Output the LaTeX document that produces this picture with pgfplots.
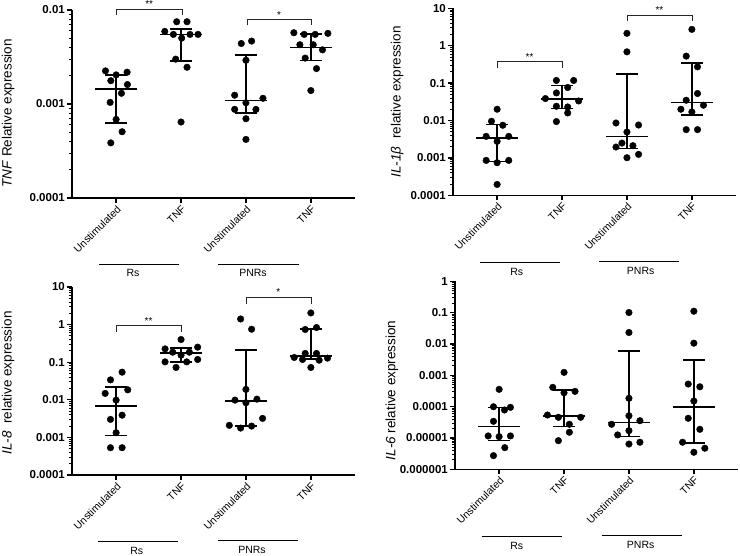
\documentclass[border=0pt]{standalone}
\usepackage{fontspec}
\setmainfont{Liberation Sans}
\usepackage{pgfplots}
\usepackage{pgfplotstable}
\pgfplotsset{compat=1.18}

% ---------- Panel 1: TNF ----------
\pgfplotstableread{
x y
-0.164 0.00225
0 0.00204
0.169 0.00218
-0.082 0.00177
0.174 0.00161
0.082 0.00130
-0.092 0.00104
0 0.000686
0.092 0.000507
-0.082 0.000386
0.933 0.0075
1.092 0.0075
0.749 0.00592
0.882 0.0055
1.01 0.00502
1.138 0.0055
1.262 0.0055
0.918 0.0030
1.092 0.00246
1 0.000643
1.928 0.0044
2.087 0.00467
2 0.00292
1.826 0.00124
2.262 0.00115
2 0.00103
1.826 0.000877
2.154 0.000877
2 0.000697
2 0.00042
2.738 0.00573
2.897 0.0055
3.067 0.0055
3.262 0.00564
2.831 0.00427
3.036 0.00427
3.179 0.00377
2.913 0.00308
3.087 0.00238
3 0.00139
}\tnfpts
\pgfplotstableread{
x med lo hi
0 0.00144 0.000632 0.00204
1 0.0055 0.00288 0.00627
2 0.00109 0.000807 0.00331
3 0.00399 0.0029 0.00554
}\tnfsum

% ---------- Panel 2: IL-1b ----------
\pgfplotstableread{
x y
0 0.020
-0.087 0.00953
0.087 0.00745
-0.169 0.00376
0.179 0.00376
0 0.00277
-0.169 0.000857
0.179 0.000857
0 0.000743
0 0.000195
0.913 0.1175
1.179 0.1175
1.087 0.0762
0.913 0.0546
0.744 0.0386
1.256 0.0333
0.913 0.024
1.087 0.023
1.087 0.0159
0.913 0.00935
2 2.14
2 0.685
1.831 0.00857
2.179 0.00757
2 0.00492
1.923 0.00249
1.831 0.00195
2.092 0.00212
2.179 0.00124
2 0.00101
3 2.73
2.913 0.526
3.087 0.272
3.087 0.0526
2.913 0.0348
3.179 0.0256
2.831 0.02
3 0.0169
2.913 0.0057
3.087 0.0057
}\ilbpts
\pgfplotstableread{
x med lo hi
0 0.0034 0.000806 0.0079
1 0.037 0.0209 0.0863
2 0.00376 0.00177 0.177
3 0.0302 0.014 0.348
}\ilbsum

% ---------- Panel 3: IL-8 ----------
\pgfplotstableread{
x y
0.092 0.0543
-0.087 0.0339
0.179 0.0184
-0.169 0.0148
0 0.0098
0.092 0.0039
-0.087 0.00301
0 0.00133
-0.087 0.000531
0.092 0.000531
1 0.401
0.754 0.226
1.256 0.251
0.872 0.1846
1.128 0.1846
1 0.1535
0.754 0.102
1.087 0.102
1.256 0.118
0.923 0.0724
1.918 1.41
2.087 0.753
2 0.0189
1.831 0.0098
2.169 0.0104
2 0.00832
2.256 0.0032
1.744 0.00209
1.918 0.00177
2.087 0.002
3 2.04
2.913 0.740
3.087 0.835
2.744 0.1335
2.913 0.171
3.087 0.171
2.872 0.118
3.128 0.113
3.256 0.128
3 0.0724
}\ileightpts
\pgfplotstableread{
x med lo hi
0 0.0068 0.00113 0.0221
1 0.177 0.102 0.236
2 0.0092 0.002 0.208
3 0.147 0.120 0.767
}\ileightsum

% ---------- Panel 4: IL-6 ----------
\pgfplotstableread{
x y
0 0.000356
-0.087 9.9e-5
0.082 7.8e-5
0.174 9.5e-5
-0.087 3.4e-5
-0.169 1.16e-5
0 1.1e-5
0.174 1.16e-5
0.087 4.9e-6
-0.087 2.73e-6
1 0.00124
0.826 0.000412
1 0.000277
1.169 0.000307
0.744 5.4e-5
0.913 4.56e-5
1.256 4.56e-5
1.082 2.73e-5
1.082 1.52e-5
0.913 8.2e-6
2 0.1007
2 0.0232
2 0.000184
2 5.1e-5
1.733 2.73e-5
2.169 3.55e-5
2 1.71e-5
1.826 1.25e-5
2 6.4e-6
2.169 7.3e-6
3 0.111
3 0.0106
2.913 0.000525
3.092 0.00043
3 0.000151
2.913 4.24e-5
3.092 1.89e-5
2.826 7.3e-6
3.169 4.7e-6
3 3.5e-6
}\ilsixpts
\pgfplotstableread{
x med lo hi
0 2.29e-5 8.4e-6 9.5e-5
1 5.0e-5 2.29e-5 0.000338
2 3.07e-5 1.1e-5 0.0059
3 9.7e-5 6.8e-6 0.00305
}\ilsixsum

\pgfplotsset{
  mypanel/.style={
    scale only axis, width=283pt, height=188pt,
    anchor=south west,
    axis lines=left,
    axis line style={-, line width=1.5pt, black},
    xmin=-0.68, xmax=3.68,
    xtick={0,1,2,3},
    xticklabels={Unstimulated,TNF,Unstimulated,TNF},
    xticklabel style={rotate=45, anchor=north east, inner sep=1pt,
      font=\fontsize{10.5}{12}\selectfont},
    yticklabel style={font=\bfseries\fontsize{11.5}{12}\selectfont, inner sep=2pt},
    tick align=outside,
    major tick length=5pt, minor tick length=3pt,
    every tick/.style={black, line width=1.3pt},
    minor tick style={black, line width=0.9pt},
    ylabel style={font=\fontsize{13.5}{15}\selectfont, anchor=center},
    clip=false,
  },
  mydots/.style={only marks, mark=*, mark size=3.3pt, black, mark options={fill=black}},
  mymed/.style={only marks, mark=-, mark size=21pt, black, mark options={line width=1.6pt}},
  mycap/.style={only marks, mark=-, mark size=11pt, black, mark options={line width=1.6pt}},
  mywl/.style={black, line width=1.6pt, mark=none},
}
\tikzset{
  mybrk/.style={line width=0.7pt, black!85},
  mystar/.style={font=\fontsize{10}{10}\selectfont, anchor=south, inner sep=1pt},
}

\begin{document}
\begin{tikzpicture}[x=1pt,y=1pt]
\useasboundingbox (0,0) rectangle (740,556);

% ===== Panel 1 =====
\begin{axis}[mypanel, ymode=log, at={(72pt,358pt)},
  ymin=1e-4, ymax=1e-2,
  ytick={1e-4,1e-3,1e-2}, yticklabels={0.0001,0.001,0.01},
  minor ytick={2e-4,3e-4,4e-4,5e-4,6e-4,7e-4,8e-4,9e-4,
               2e-3,3e-3,4e-3,5e-3,6e-3,7e-3,8e-3,9e-3},
  ylabel={\textit{TNF} Relative expression},
  ylabel style={at={(axis description cs:-0.226,0.45)}},
]
\addplot[mydots] table[x=x,y=y] {\tnfpts};
\addplot[mywl] coordinates {(0,0.000632) (0,0.00204)};
\addplot[mywl] coordinates {(1,0.00288) (1,0.00627)};
\addplot[mywl] coordinates {(2,0.000807) (2,0.00331)};
\addplot[mywl] coordinates {(3,0.0029) (3,0.00554)};
\addplot[mycap] table[x=x,y=lo] {\tnfsum};
\addplot[mycap] table[x=x,y=hi] {\tnfsum};
\addplot[mymed] table[x=x,y=med] {\tnfsum};
\draw[mybrk] (axis cs:0,0.0089) |- (axis cs:1.02,0.01026) -- (axis cs:1.02,0.0089);
\node[mystar] at (axis cs:0.51,0.01026) {**};
\draw[mybrk] (axis cs:2.02,0.00686) |- (axis cs:3,0.00788) -- (axis cs:3,0.00686);
\node[mystar] at (axis cs:2.51,0.00788) {*};
\end{axis}

% ===== Panel 2 =====
\begin{axis}[mypanel, ymode=log, at={(453pt,360.7pt)}, height=187pt,
  ymin=1e-4, ymax=10,
  ytick={1e-4,1e-3,1e-2,1e-1,1,10}, yticklabels={0.0001,0.001,0.01,0.1,1,10},
  minor ytick={2e-4,3e-4,4e-4,5e-4,6e-4,7e-4,8e-4,9e-4,
               2e-3,3e-3,4e-3,5e-3,6e-3,7e-3,8e-3,9e-3,
               2e-2,3e-2,4e-2,5e-2,6e-2,7e-2,8e-2,9e-2,
               0.2,0.3,0.4,0.5,0.6,0.7,0.8,0.9,
               2,3,4,5,6,7,8,9},
  ylabel={\textit{IL-1β}~ relative expression},
  ylabel style={at={(axis description cs:-0.197,0.5)}},
]
\addplot[mydots] table[x=x,y=y] {\ilbpts};
\addplot[mywl] coordinates {(0,0.000806) (0,0.0079)};
\addplot[mywl] coordinates {(1,0.0209) (1,0.0863)};
\addplot[mywl] coordinates {(2,0.00177) (2,0.177)};
\addplot[mywl] coordinates {(3,0.014) (3,0.348)};
\addplot[mycap] table[x=x,y=lo] {\ilbsum};
\addplot[mycap] table[x=x,y=hi] {\ilbsum};
\addplot[mymed] table[x=x,y=med] {\ilbsum};
\draw[mybrk] (axis cs:0,0.246) |- (axis cs:1,0.37) -- (axis cs:1,0.246);
\node[mystar] at (axis cs:0.5,0.37) {**};
\draw[mybrk] (axis cs:2,4.57) |- (axis cs:3,6.6) -- (axis cs:3,4.57);
\node[mystar] at (axis cs:2.5,6.6) {**};
\end{axis}

% ===== Panel 3 =====
\begin{axis}[mypanel, ymode=log, at={(72pt,81pt)},
  ymin=1e-4, ymax=10,
  ytick={1e-4,1e-3,1e-2,1e-1,1,10}, yticklabels={0.0001,0.001,0.01,0.1,1,10},
  minor ytick={2e-4,3e-4,4e-4,5e-4,6e-4,7e-4,8e-4,9e-4,
               2e-3,3e-3,4e-3,5e-3,6e-3,7e-3,8e-3,9e-3,
               2e-2,3e-2,4e-2,5e-2,6e-2,7e-2,8e-2,9e-2,
               0.2,0.3,0.4,0.5,0.6,0.7,0.8,0.9,
               2,3,4,5,6,7,8,9},
  ylabel={\textit{IL-8}~ relative expression},
  ylabel style={at={(axis description cs:-0.226,0.49)}},
]
\addplot[mydots] table[x=x,y=y] {\ileightpts};
\addplot[mywl] coordinates {(0,0.00113) (0,0.0221)};
\addplot[mywl] coordinates {(1,0.102) (1,0.236)};
\addplot[mywl] coordinates {(2,0.002) (2,0.208)};
\addplot[mywl] coordinates {(3,0.120) (3,0.767)};
\addplot[mycap] table[x=x,y=lo] {\ileightsum};
\addplot[mycap] table[x=x,y=hi] {\ileightsum};
\addplot[mymed] table[x=x,y=med] {\ileightsum};
\draw[mybrk] (axis cs:0,0.638) |- (axis cs:1,0.96) -- (axis cs:1,0.638);
\node[mystar] at (axis cs:0.5,0.96) {**};
\draw[mybrk] (axis cs:2,3.62) |- (axis cs:3,5.42) -- (axis cs:3,3.62);
\node[mystar] at (axis cs:2.5,5.42) {*};
\end{axis}

% ===== Panel 4 =====
\begin{axis}[mypanel, ymode=log, at={(455pt,86.7pt)},
  ymin=1e-6, ymax=1,
  ytick={1e-6,1e-5,1e-4,1e-3,1e-2,1e-1,1},
  yticklabels={0.000001,0.00001,0.0001,0.001,0.01,0.1,1},
  minor ytick={2e-6,3e-6,4e-6,5e-6,6e-6,7e-6,8e-6,9e-6,
               2e-5,3e-5,4e-5,5e-5,6e-5,7e-5,8e-5,9e-5,
               2e-4,3e-4,4e-4,5e-4,6e-4,7e-4,8e-4,9e-4,
               2e-3,3e-3,4e-3,5e-3,6e-3,7e-3,8e-3,9e-3,
               2e-2,3e-2,4e-2,5e-2,6e-2,7e-2,8e-2,9e-2,
               0.2,0.3,0.4,0.5,0.6,0.7,0.8,0.9},
  ylabel={\textit{IL-6} relative expression},
  ylabel style={at={(axis description cs:-0.223,0.42)}},
]
\addplot[mydots] table[x=x,y=y] {\ilsixpts};
\addplot[mywl] coordinates {(0,8.4e-6) (0,9.5e-5)};
\addplot[mywl] coordinates {(1,2.29e-5) (1,0.000338)};
\addplot[mywl] coordinates {(2,1.1e-5) (2,0.0059)};
\addplot[mywl] coordinates {(3,6.8e-6) (3,0.00305)};
\addplot[mycap] table[x=x,y=lo] {\ilsixsum};
\addplot[mycap] table[x=x,y=hi] {\ilsixsum};
\addplot[mymed] table[x=x,y=med] {\ilsixsum};
\end{axis}

% ===== group lines and labels =====
\begin{scope}[line width=0.8pt, font=\fontsize{10.5}{12}\selectfont]
\draw (99,291.7) -- (179,291.7);   \node at (133,283) {Rs};
\draw (218,291.7) -- (299,291.7);  \node at (253,283) {PNRs};
\draw (480,293.7) -- (560,293.7);  \node at (516.7,284.3) {Rs};
\draw (599,295) -- (679,295);      \node at (640.7,285) {PNRs};
\draw (98,14.3) -- (178,14.3);     \node at (136.7,5.5) {Rs};
\draw (218,15.3) -- (298,15.3);    \node at (252,6) {PNRs};
\draw (481.7,20) -- (562.3,20);    \node at (516.7,10.3) {Rs};
\draw (601.7,21) -- (681.7,21);    \node at (640.7,11) {PNRs};
\end{scope}
\end{tikzpicture}
\end{document}
